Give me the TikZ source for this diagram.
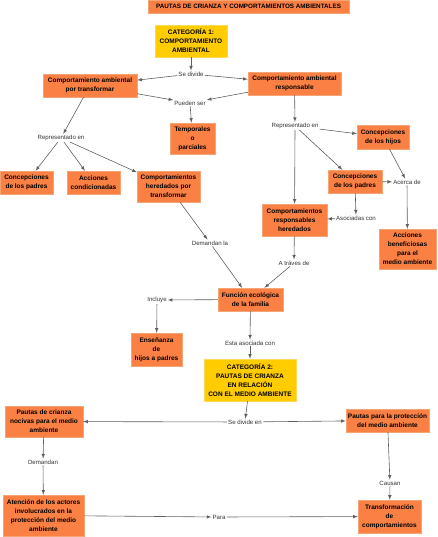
\documentclass[tikz,border=0pt]{standalone}
\usepackage{fontspec}
\setmainfont{Liberation Sans}
\definecolor{boxorange}{RGB}{251,128,68}
\definecolor{edgeorange}{RGB}{245,165,115}
\definecolor{boxyellow}{RGB}{255,204,0}
\definecolor{edgeyellow}{RGB}{250,218,90}
\definecolor{linegray}{RGB}{95,95,95}
\tikzset{block/.style = {draw=edgeorange, fill=boxorange, rectangle, align=center, inner sep=1pt, font=\fontsize{6.5}{9}\selectfont\bfseries},
         catbox/.style = {block, draw=edgeyellow, fill=boxyellow},
         link/.style = {fill=white, inner sep=1pt, text=black!80, font=\fontsize{6.1}{7}\selectfont},
         conn/.style = {->, >=latex, draw=linegray, line width=0.6pt}}

\begin{document}
\begin{tikzpicture}[x=1pt,y=-1pt]
        \useasboundingbox (0,0) rectangle (437,537);

        \node[block, minimum width=201, minimum height=13, font=\fontsize{6.3}{7}\selectfont\bfseries] (title) at (248.5,6.5) {PAUTAS DE CRIANZA Y COMPORTAMIENTOS AMBIENTALES};

        % categoria 1
        \node[catbox, minimum width=72, minimum height=32] (cat1) at (191,41) {CATEGORÍA 1:\\COMPORTAMIENTO\\AMBIENTAL};
        \node[link] (sedivide) at (191,74) {Se divide};
        \node[block, minimum width=94, minimum height=23] (ctrans) at (90,85.5) {Comportamiento ambiental\\por transformar};
        \node[block, minimum width=93, minimum height=23] (cresp) at (294.5,83.5) {Comportamiento ambiental\\responsable};
        \node[link] (pueden) at (190,103) {Pueden ser};
        \node[block, minimum width=45, minimum height=31] (temp) at (192.5,138.5) {Temporales\\o\\parciales};

        \node[link] (repizq) at (61,138) {Representado en};
        \node[block, minimum width=53, minimum height=23] (concpadizq) at (26.5,182.5) {Concepciones\\de los padres};
        \node[block, minimum width=53, minimum height=23] (acccond) at (93.5,182.5) {Acciones\\condicionadas};
        \node[block, minimum width=63, minimum height=31] (herizq) at (168.5,186.5) {Comportamientos\\heredados por\\transformar};
        \node[link] (demandanla) at (210,243) {Demandan la};

        \node[link] (repder) at (295,126) {Representado en};
        \node[block, minimum width=52, minimum height=24] (conchij) at (383,137) {Concepciones\\de los hijos};
        \node[block, minimum width=54, minimum height=23] (concpadder) at (355,181.5) {Concepciones\\de los padres};
        \node[link] (acerca) at (407,182) {Acerca de};
        \node[block, minimum width=65, minimum height=32] (herder) at (294.5,220) {Comportamientos\\responsables\\heredados};
        \node[link] (asociadas) at (356,218) {Asociadas con};
        \node[block, minimum width=57, minimum height=40] (accben) at (407.5,249) {Acciones\\beneficiosas\\para el\\medio ambiente};
        \node[link] (atraves) at (294,263) {A tráves de};

        \node[block, minimum width=65, minimum height=23] (funcion) at (250.5,299.5) {Función ecológica\\de la familia};
        \node[link] (incluye) at (157,300) {Incluye};
        \node[block, minimum width=51, minimum height=33] (ensenanza) at (156.5,349.5) {Enseñanza\\de\\hijos a padres};
        \node[link] (estaasoc) at (250,343) {Esta asociada con};

        % categoria 2
        \node[catbox, minimum width=92, minimum height=42] (cat2) at (250,380) {CATEGORÍA 2:\\PAUTAS DE CRIANZA\\EN RELACIÓN\\CON EL MEDIO AMBIENTE};
        \node[link] (sedividen) at (245,422) {Se divide en};
        \node[block, minimum width=78, minimum height=31] (nocivas) at (44,421.5) {Pautas de crianza\\nocivas para el medio\\ambiente};
        \node[block, minimum width=83, minimum height=23] (proteccion) at (387.5,420.5) {Pautas para la protección\\del medio ambiente};
        \node[link] (demandan) at (43,462) {Demandan};
        \node[block, minimum width=81, minimum height=41] (atencion) at (43.5,515.5) {Atención de los actores\\involucrados en la\\protección del medio\\ambiente};
        \node[link] (causan) at (390,483) {Causan};
        \node[block, minimum width=63, minimum height=33] (transf) at (389.5,516.5) {Transformación\\de\\comportamientos};
        \node[link] (para) at (219,517) {Para};

        \draw[conn] (cat1) -- (sedivide);
        \draw[conn] (sedivide) -- (ctrans);
        \draw[conn] (sedivide) -- (cresp);
        \draw[conn] (ctrans) -- (pueden);
        \draw[conn] (cresp) -- (pueden);
        \draw[conn] (pueden) -- (temp);

        \draw[conn] (ctrans) -- (repizq);
        \draw[conn] (repizq) -- (concpadizq);
        \draw[conn] (repizq) -- (acccond);
        \draw[conn] (repizq) -- (herizq);
        \draw[conn] (herizq) -- (demandanla);
        \draw[conn] (demandanla) -- (funcion);

        \draw[conn] (cresp) -- (repder);
        \draw[conn] (repder) -- (conchij);
        \draw[conn] (repder) -- (concpadder);
        \draw[conn] (repder.south) -- (herder);
        \draw[conn] (conchij) -- (acerca);
        \draw[conn] (concpadder) -- (acerca);
        \draw[conn] (acerca) -- (accben);
        \draw[conn] (concpadder) -- (asociadas);
        \draw[conn] (asociadas) -- (herder);
        \draw[conn] (herder) -- (atraves);
        \draw[conn] (atraves) -- (funcion);

        \draw[conn] (funcion) -- (incluye);
        \draw[conn] (incluye) -- (ensenanza);
        \draw[conn] (funcion) -- (estaasoc);
        \draw[conn] (estaasoc) -- (cat2);

        \draw[conn] (cat2) -- (sedividen);
        \draw[conn] (sedividen) -- (nocivas);
        \draw[conn] (sedividen) -- (proteccion);
        \draw[conn] (nocivas) -- (demandan);
        \draw[conn] (demandan) -- (atencion);
        \draw[conn] (proteccion) -- (causan);
        \draw[conn] (causan) -- (transf);
        \draw[conn] (atencion) -- (para);
        \draw[conn] (para) -- (transf);
\end{tikzpicture}
\end{document}
